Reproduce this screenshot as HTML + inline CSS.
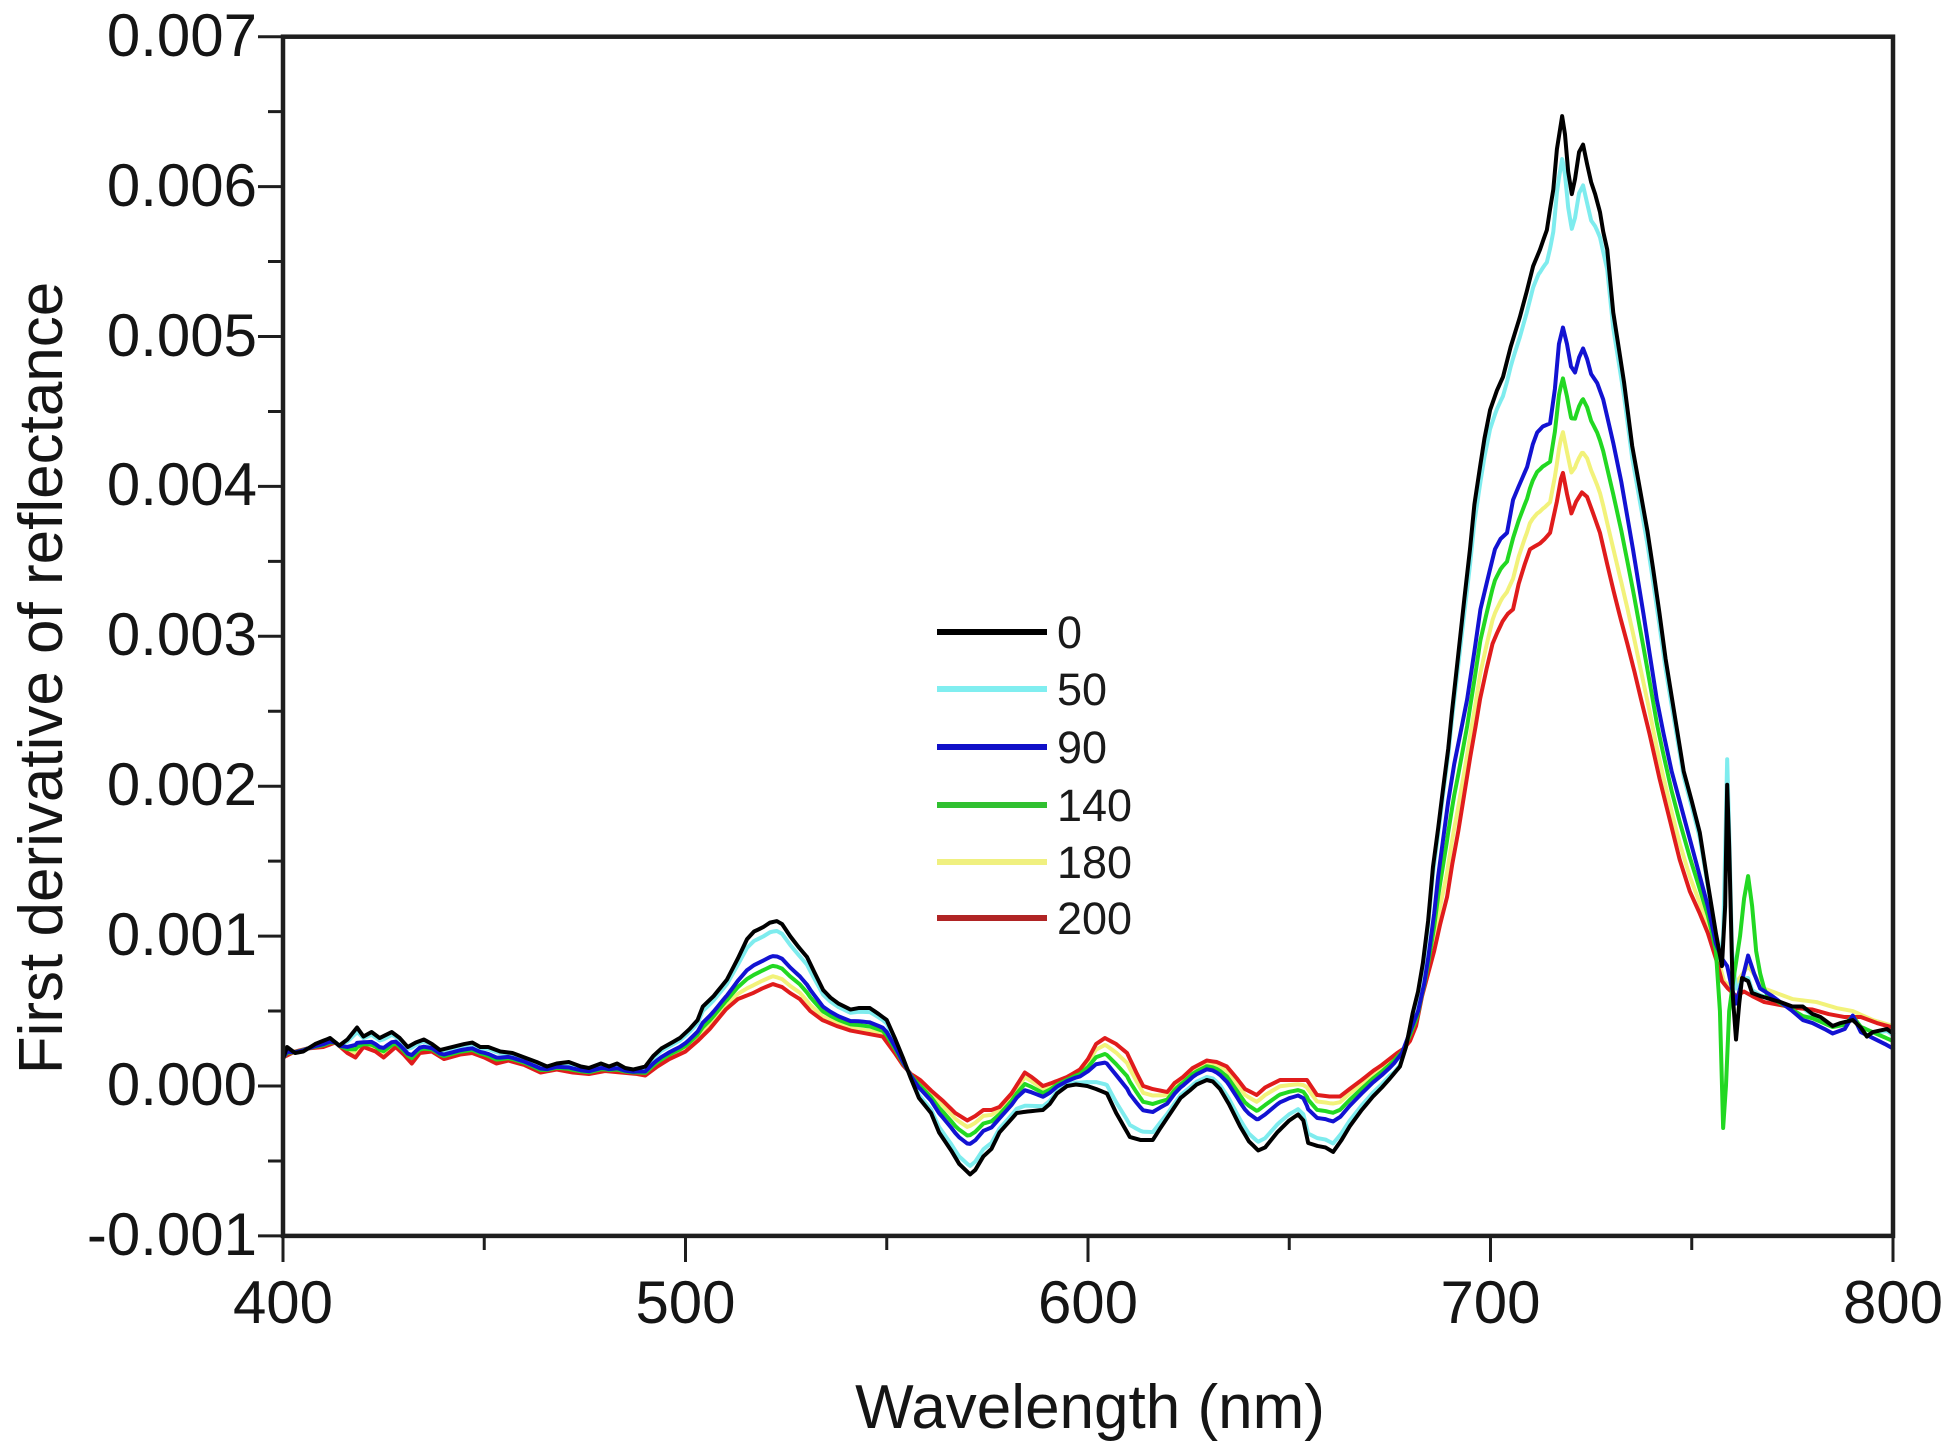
<!DOCTYPE html>
<html>
<head>
<meta charset="utf-8">
<style>
html,body{margin:0;padding:0;background:#fff;}
svg{display:block}
</style>
</head>
<body>
<svg id="chart" width="1954" height="1448" viewBox="0 0 1954 1448" xmlns="http://www.w3.org/2000/svg" font-family="'Liberation Sans', Arial, sans-serif">
<rect x="0" y="0" width="1954" height="1448" fill="#fff"/>
<g id="series" fill="none" stroke-width="4" stroke-linejoin="round" stroke-linecap="round"></g>

<!-- frame -->
<rect x="283" y="36.7" width="1610" height="1199.2" fill="none" stroke="#1e1e1e" stroke-width="4.5"/>
<!-- ticks -->
<path fill="none" stroke="#1e1e1e" stroke-width="3" d="
M283 1236 v26 M685.5 1236 v26 M1088 1236 v26 M1490.5 1236 v26 M1893 1236 v26
M484.25 1236 v14 M886.75 1236 v14 M1289.25 1236 v14 M1691.75 1236 v14
M283 36.7 h-25 M283 186.6 h-25 M283 336.5 h-25 M283 486.4 h-25 M283 636.3 h-25 M283 786.2 h-25 M283 936.1 h-25 M283 1086 h-25 M283 1235.9 h-25
M283 111.65 h-15 M283 261.55 h-15 M283 411.45 h-15 M283 561.35 h-15 M283 711.25 h-15 M283 861.15 h-15 M283 1011.05 h-15 M283 1160.95 h-15
"/>

<!-- y tick labels -->
<g font-size="60" fill="#151515" text-anchor="end">
<text x="257" y="56">0.007</text>
<text x="257" y="206">0.006</text>
<text x="257" y="356">0.005</text>
<text x="257" y="505">0.004</text>
<text x="257" y="655">0.003</text>
<text x="257" y="805">0.002</text>
<text x="257" y="955">0.001</text>
<text x="257" y="1105">0.000</text>
<text x="257" y="1255">-0.001</text>
</g>
<!-- x tick labels -->
<g font-size="60" fill="#151515" text-anchor="middle">
<text x="283" y="1323">400</text>
<text x="685.5" y="1323">500</text>
<text x="1088" y="1323">600</text>
<text x="1490.5" y="1323">700</text>
<text x="1893" y="1323">800</text>
</g>
<!-- axis titles -->
<text x="1090" y="1428" font-size="62" fill="#151515" text-anchor="middle">Wavelength (nm)</text>
<text x="62" y="678" font-size="62" fill="#151515" text-anchor="middle" transform="rotate(-90 62 678)">First derivative of reflectance</text>

<!-- legend -->
<g stroke-width="6" stroke-linecap="butt">
<line x1="937" y1="632" x2="1047" y2="632" stroke="#000"/>
<line x1="937" y1="689" x2="1047" y2="689" stroke="#80eef0"/>
<line x1="937" y1="747" x2="1047" y2="747" stroke="#1010c8"/>
<line x1="937" y1="805" x2="1047" y2="805" stroke="#30c030"/>
<line x1="937" y1="862" x2="1047" y2="862" stroke="#f0f080"/>
<line x1="937" y1="918" x2="1047" y2="918" stroke="#b02424"/>
</g>
<g font-size="45" fill="#1a1a1a">
<text x="1057" y="648">0</text>
<text x="1057" y="705">50</text>
<text x="1057" y="763">90</text>
<text x="1057" y="821">140</text>
<text x="1057" y="878">180</text>
<text x="1057" y="934">200</text>
</g>
</svg>
<script>
(function(){
var black=[400,1.8,401,2.6,403,2.2,405,2.3,408,2.8,411.7,3.2,414,2.7,416,3.1,418.4,3.9,420,3.3,422,3.6,424,3.2,427,3.6,429,3.2,431,2.6,433,2.9,435,3.1,437,2.8,439,2.4,442,2.6,445,2.8,447,2.9,449,2.6,451,2.6,454,2.3,457,2.2,460,1.9,463,1.6,465.6,1.3,468,1.5,471,1.6,474,1.3,476,1.2,479,1.5,481,1.3,483,1.5,485,1.2,487,1.1,490,1.3,492,2.0,494,2.5,496,2.8,498.6,3.2,501,3.8,503,4.4,504.3,5.3,507,6.0,510.3,7.1,513,8.5,515.3,9.8,517,10.3,519.3,10.6,521,10.9,522.7,11.0,524,10.8,526,10.0,528,9.3,530.2,8.6,532,7.6,534.2,6.4,536,5.9,538,5.5,541,5.1,543,5.2,545.8,5.2,548,4.8,550,4.4,552,3.2,554,1.9,556,0.5,558,-0.8,561,-1.8,563,-3.1,566,-4.3,568,-5.2,570.7,-5.9,572,-5.6,574,-4.7,576,-4.2,578,-3.1,580,-2.5,582.3,-1.8,585,-1.7,588.8,-1.6,590.5,-1.2,592.3,-0.5,594.8,0.0,597,0.1,599.8,0.0,602,-0.2,604.7,-0.5,607,-1.8,610.4,-3.4,613,-3.6,616.1,-3.6,618,-2.8,621,-1.6,623,-0.8,625.3,-0.3,627,0.1,629.5,0.4,631,0.3,632.8,-0.2,635,-1.2,637.8,-2.7,640,-3.7,642.3,-4.3,644,-4.1,647,-3.1,650,-2.3,652.2,-1.9,653.5,-2.3,654.7,-3.8,657,-4.0,659,-4.1,660.9,-4.4,663,-3.6,665,-2.7,668,-1.6,670.8,-0.7,673,-0.1,675,0.5,677.5,1.3,679,2.6,680.7,4.9,682,6.3,683.2,8.2,684.5,11.0,685.7,14.6,687,17.2,688.2,19.8,689.5,22.5,690.4,24.9,692,28.8,693.5,32.5,694.9,35.8,696,38.8,697.4,41.3,698.5,43.2,699.9,45.1,701.6,46.4,703.1,47.3,705,49.3,707.3,51.3,709,53.0,710.6,54.7,712.3,55.8,713.2,56.5,714,57.1,714.8,58.5,715.6,59.8,716.5,62.5,717.8,64.7,718.5,63.5,719.3,61.0,720.2,59.5,721,60.5,722,62.3,723,62.8,724,61.5,725,60.3,726,59.5,727.2,58.3,728,57.0,729,55.8,730.5,51.6,732,49.0,733.2,46.9,735.2,42.7,737,40.0,739,37.0,740.4,34.5,742,31.5,743.5,28.5,745,26.0,746.5,23.5,748,21.0,750,19.0,752,16.9,754,13.5,756,10.2,757.5,8.0,758.3,12,758.8,20.1,759.3,16,760.2,6,761,3.1,761.8,5.5,762.5,7.2,764,7.0,765,6.2,767,6.0,769.5,5.8,772,5.6,775,5.3,777.6,5.3,780,4.8,782,4.6,785,4.0,787,4.2,790,4.4,792,3.9,793.5,3.3,795,3.6,798.5,3.8,800,3.5];
var red=[400,1.9,403,2.3,406,2.5,410,2.6,413,2.9,416,2.2,418,1.9,420,2.6,423,2.3,425,1.9,428,2.6,430,2.1,432,1.5,434,2.2,437,2.3,440,1.8,444,2.1,447,2.2,450,1.9,453,1.5,456,1.7,460,1.4,464,0.9,468,1.1,472,0.9,476,0.8,480,1.0,484,0.9,488,0.8,490,0.7,493,1.3,496,1.8,500,2.3,503,3.0,506,3.8,510,5.1,513,5.8,516.8,6.2,519,6.5,521.7,6.8,524,6.6,526,6.2,528.4,5.8,531,5.0,534,4.4,537.6,4.0,541,3.7,545,3.5,549,3.3,552,2.2,554,1.4,556,0.8,558.3,0.4,561,-0.3,564,-1.0,567,-1.8,570,-2.3,572,-2.0,574,-1.6,576,-1.6,578,-1.4,581,-0.5,584.3,0.9,586,0.6,588.8,0.0,591,0.2,594.8,0.6,598,1.1,600,1.8,602,2.8,604.2,3.2,607,2.8,609.7,2.2,612,0.9,613.7,0.0,616,-0.2,619.7,-0.4,621.5,0.2,623.6,0.6,626,1.2,629.5,1.7,632,1.6,634.5,1.3,637,0.5,639,-0.2,641.9,-0.6,644,-0.1,647.7,0.4,651,0.4,654.4,0.4,656.9,-0.6,660,-0.7,662.6,-0.7,665,-0.2,668,0.4,670.8,1.0,673,1.4,676.8,2.2,678.5,2.5,680,3.0,681.5,4.0,683,6.0,684.5,7.5,686,9.0,687.5,10.8,689.2,12.6,690.5,14.8,692,17.0,693.5,19.5,695,22.0,696.3,24.0,697.4,25.8,699,27.8,700.5,29.5,701.6,30.2,703,31.0,704.3,31.5,705.6,31.8,707,33.5,708.5,34.8,709.8,35.8,711,36.0,712.3,36.2,713.5,36.5,714.8,36.9,716.5,39.0,717.5,40.5,718,40.9,719,39.5,720.1,38.2,721.3,39.0,722.7,39.6,724,39.3,725.5,38.2,727.2,36.9,729,34.8,730.6,33.0,732.2,31.3,734,29.5,735.8,27.6,737.4,25.8,739.5,23.5,742,20.5,744.5,17.8,747,15.1,749.5,13.0,752,11.5,754,10.2,756,8.5,757.5,7.0,759,6.5,761,6.0,763,6.3,765,6.0,768,5.6,772,5.4,776,5.2,780,5.1,784,4.8,788,4.6,792,4.6,796,4.2,800,3.9];
var blueX=[676,1.5,678,2.2,680,3.6,682,5.0,683.5,6.8,684.5,8.5,686,11.5,687,14.0,688.5,17.0,689.5,19.0,691,21.5,692.5,23.5,694.2,25.8,696,29.0,697.5,31.8,699.1,33.6,700,34.6,701.1,35.8,702.5,36.5,704.1,36.9,705.6,39.1,707,40.0,709.1,41.3,710.5,42.8,711.6,43.6,713,44.0,714.8,44.2,716,46.5,717,49.5,718,50.6,719,49.5,720,48.0,721,47.6,722,48.6,723,49.2,724,48.5,725,47.5,726.5,46.9,728,45.8,730.5,42.9,732.5,40.3,735.4,35.8,738,31.5,741.3,25.8,743,23.5,745,21.0,747.5,18.5,750,16.0,752,14.0,754,12.0,756,9.5,757.5,8.5,758.8,8,760,6.5,761,5.5,762,6.5,764,8.7,765.5,7.5,767,6.5,770,6.0,772,5.6,775,5.0,777.6,4.4,780,4.2,783,3.8,785,3.5,788,3.8,790,4.7,792,3.6,795,3.2,798,2.8,800,2.5];
var cyanO=[757,8.5,757.8,10,758.5,18,758.8,21.8,759.3,17,760,9,761,6.5,762,6.8];
var greenO=[756,9.0,757,5,757.8,-2.8,758.5,0,759.3,5,760.3,7,762,10,763,12.5,764,14.0,765,12,766,9,767,7.5,768,6.5];
var yellowO=[756,9,758,7,760,6.5,764,8.0,768,6.5,775,5.8,781,5.6,786,5.2,790,5.0,795,4.4,800,4.0];

function I(a,w){
  var n=a.length/2;
  if(w<=a[0]) return a[1];
  if(w>=a[2*(n-1)]) return a[2*(n-1)+1];
  for(var i=0;i<n-1;i++){
    var x0=a[2*i],x1=a[2*i+2];
    if(w>=x0&&w<=x1){var t=(x1===x0)?0:(w-x0)/(x1-x0);return a[2*i+1]+t*(a[2*i+3]-a[2*i+1]);}
  }
  return 0;
}
function inR(a,w){return w>=a[0]&&w<=a[a.length-2];}
var ws={};
[black,red,blueX,cyanO,greenO,yellowO].forEach(function(a){for(var i=0;i<a.length;i+=2)ws[a[i]]=1;});
for(var g=400;g<=800;g+=1)ws[g]=1;
var W=Object.keys(ws).map(Number).sort(function(a,b){return a-b;});

function X(w){return 283+(w-400)*4.025;}
function Y(u){return 1086-u*14.99;}
function cf(w){
  if(w<676) return 0.28;
  if(w>=715.5&&w<=725) return 0.2;
  if(w>712&&w<715.5) return 0.12+0.08*(w-712)/3.5;
  if(w>725&&w<728) return 0.2-0.08*(w-725)/3;
  return 0.12;
}

var S={k:[],c:[],b:[],g:[],y:[],r:[]};
W.forEach(function(w){
  var k=I(black,w), r=I(red,w);
  var b=(w>=676)?I(blueX,w):k+0.55*(r-k);
  var gg=inR(greenO,w)?I(greenO,w):b+0.35*(r-b);
  var yy=inR(yellowO,w)?I(yellowO,w):b+0.72*(r-b);
  var c=inR(cyanO,w)?I(cyanO,w):k+cf(w)*(b-k);
  S.k.push([w,k]);S.r.push([w,r]);S.b.push([w,b]);S.g.push([w,gg]);S.y.push([w,yy]);S.c.push([w,c]);
});
var order=[['y','#f2f27a'],['c','#7eecee'],['r','#e01c1c'],['g','#22d822'],['b','#1212d2'],['k','#000000']];
var gEl=document.getElementById('series');
var NS='http://www.w3.org/2000/svg';
order.forEach(function(o){
  var pts=S[o[0]].map(function(p){return X(p[0]).toFixed(2)+','+Y(p[1]).toFixed(2);}).join(' ');
  var pl=document.createElementNS(NS,'polyline');
  pl.setAttribute('points',pts);
  pl.setAttribute('stroke',o[1]);
  gEl.appendChild(pl);
});
})();
</script>
</body>
</html>
